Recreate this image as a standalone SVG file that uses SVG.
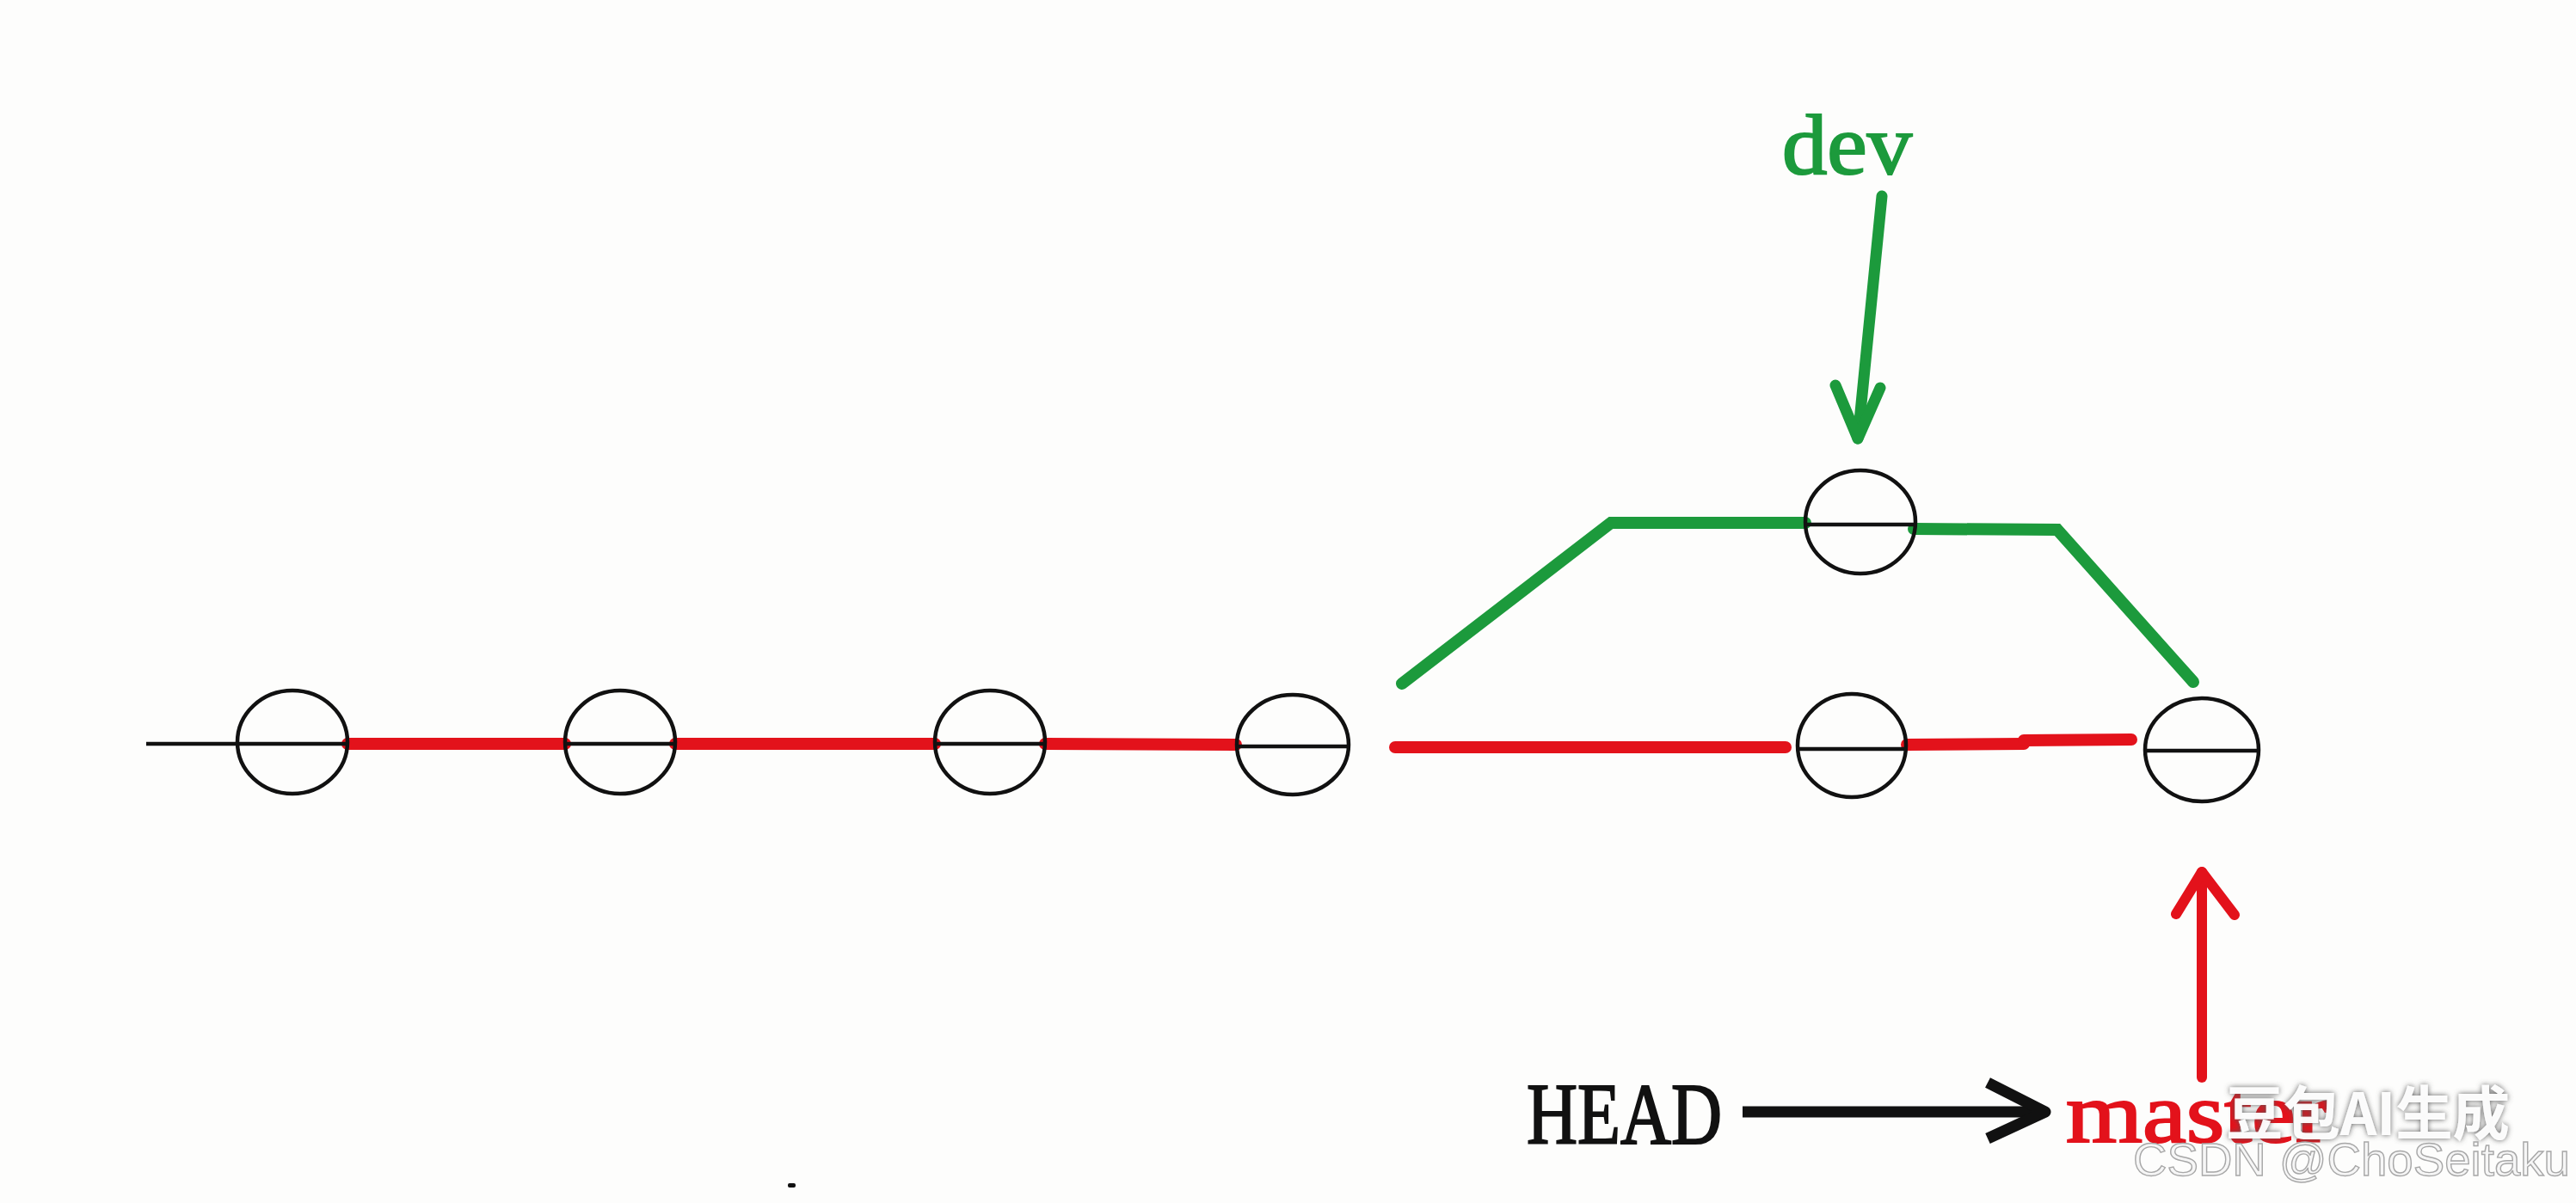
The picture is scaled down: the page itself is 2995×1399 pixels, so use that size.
<svg xmlns="http://www.w3.org/2000/svg" width="2995" height="1399" viewBox="0 0 2995 1399">
<defs>
<style>
.commit{fill:none;stroke:#111;stroke-width:4.5}
.diam{stroke:#111;stroke-width:4.5}
.red{stroke:#e3121b;stroke-width:14;fill:none;stroke-linecap:round}
.green{stroke:#1c9a3c;stroke-width:14;fill:none;stroke-linecap:round;stroke-linejoin:miter}
.ptr-g{stroke:#1c9a3c;stroke-width:13;fill:none;stroke-linecap:round;stroke-linejoin:round}
.ptr-r{stroke:#e3121b;stroke-width:12;fill:none;stroke-linecap:round;stroke-linejoin:round}
.ptr-k{stroke:#111;stroke-width:13;fill:none;stroke-linecap:butt;stroke-linejoin:round}
.lbl{font-family:"Liberation Serif","Times New Roman",serif;font-weight:normal;stroke-width:2.2}
</style>
<filter id="sh" x="-10%" y="-30%" width="120%" height="160%">
<feDropShadow dx="0" dy="0" stdDeviation="3" flood-color="#555" flood-opacity="1"/>
</filter>
</defs>
<rect width="2995" height="1399" fill="#fdfdfc"/>

<g id="connectors">
<line x1="170" y1="865" x2="276" y2="865" class="diam"/>
<line x1="404" y1="865" x2="657" y2="865" class="red"/>
<line x1="785" y1="865" x2="1087" y2="865" class="red"/>
<line x1="1215" y1="865" x2="1437" y2="866" class="red"/>
<line x1="1622" y1="869" x2="2076" y2="869" class="red"/>
<line x1="2217" y1="866" x2="2353" y2="865" class="red"/>
<line x1="2353" y1="861" x2="2478" y2="860" class="red"/>
<polyline points="1630,795 1873,608 2099,608" class="green"/>
<polyline points="2225,615 2392,616 2550,793" class="green"/>
<g id="dev-pointer">
<line x1="2188" y1="228" x2="2160" y2="510" class="ptr-g"/>
<polyline points="2134,448 2160,510 2186,451" class="ptr-g"/>
</g>
<g id="master-pointer">
<line x1="2560" y1="1253" x2="2560" y2="1014" class="ptr-r"/>
<polyline points="2530,1063 2560,1014 2598,1064" class="ptr-r"/>
</g>
<g id="head-pointer">
<line x1="2026" y1="1293" x2="2376" y2="1293" class="ptr-k"/>
<polyline points="2311,1259 2378,1293 2311,1324" class="ptr-k"/>
</g>
</g>

<g id="c1"><ellipse cx="340" cy="863" rx="64" ry="60" class="commit"/><line x1="276" y1="865" x2="404" y2="865" class="diam"/></g>
<g id="c2"><ellipse cx="721" cy="863" rx="64" ry="60" class="commit"/><line x1="657" y1="865" x2="785" y2="865" class="diam"/></g>
<g id="c3"><ellipse cx="1151" cy="863" rx="64" ry="60" class="commit"/><line x1="1087" y1="865" x2="1215" y2="865" class="diam"/></g>
<g id="c4"><ellipse cx="1503" cy="866" rx="65" ry="58" class="commit"/><line x1="1438" y1="868" x2="1568" y2="868" class="diam"/></g>
<g id="c5"><ellipse cx="2153" cy="867" rx="63" ry="60" class="commit"/><line x1="2090" y1="871" x2="2216" y2="871" class="diam"/></g>
<g id="c6"><ellipse cx="2560" cy="872" rx="66" ry="60" class="commit"/><line x1="2494" y1="873" x2="2626" y2="873" class="diam"/></g>
<g id="c-dev"><ellipse cx="2163" cy="607" rx="64" ry="60" class="commit"/><line x1="2099" y1="610" x2="2227" y2="610" class="diam"/></g>

<g id="label-dev"><text x="2072" y="202" class="lbl" font-size="100" fill="#1c9a3c" stroke="#1c9a3c" textLength="151" lengthAdjust="spacingAndGlyphs">dev</text></g>
<g id="label-head"><text x="1775" y="1330" class="lbl" font-size="102" fill="#111" stroke="#111" textLength="227" lengthAdjust="spacingAndGlyphs">HEAD</text></g>
<g id="label-master"><text x="2402" y="1328" class="lbl" font-size="100" fill="#e3121b" stroke="#e3121b" textLength="305" lengthAdjust="spacingAndGlyphs">master</text></g>

<rect x="916" y="1376" width="9" height="5" rx="2" fill="#111"/>

<g id="watermark">
<text x="2588" y="1320" font-family="Noto Sans CJK SC, sans-serif" font-weight="bold" font-size="68" fill="#ffffff" fill-opacity="0.95" filter="url(#sh)" textLength="330" lengthAdjust="spacingAndGlyphs">豆包AI生成</text>
<text x="2480" y="1367" font-family="Liberation Sans, Arial, sans-serif" font-size="54" fill="#f6f6f6" stroke="#a8a8a8" stroke-width="1.4" textLength="508" lengthAdjust="spacingAndGlyphs">CSDN @ChoSeitaku</text>
</g>
</svg>
